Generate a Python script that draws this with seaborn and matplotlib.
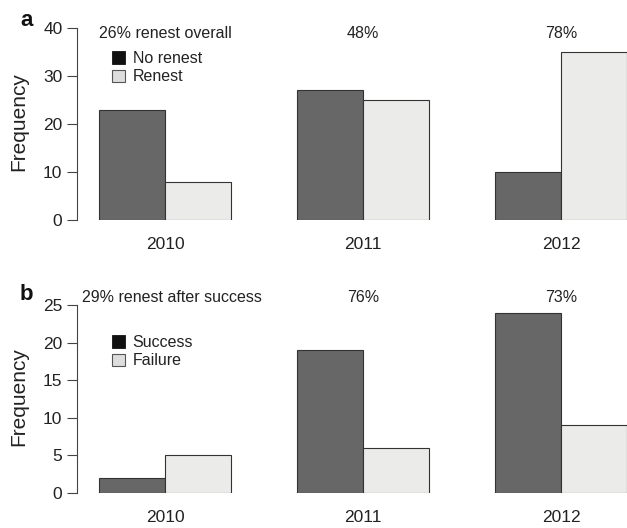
import matplotlib
matplotlib.use("Agg")
import matplotlib.pyplot as plt
import pandas as pd
import seaborn as sns
from matplotlib.patches import Patch

years = ["2010", "2011", "2012"]

renest_groups = ["No renest", "Renest"]
no_renest = [23, 27, 10]
renest = [8, 25, 35]
renest_pct = ["26% renest overall", "48%", "78%"]

success_groups = ["Success", "Failure"]
success = [2, 19, 24]
failure = [5, 6, 9]
success_pct = ["29% renest after success", "76%", "73%"]

DARK = "#676767"
LIGHT = "#ebecea"

sns.set_theme(style="white")
plt.rcParams["font.family"] = ["Liberation Sans", "DejaVu Sans"]

W, H = 627, 528
fig = plt.figure(figsize=(W / 100, H / 100), dpi=100)


def px(x, y):
    # pixel position (from top-left) -> figure fraction
    return x / W, 1 - y / H


def panel(rect, groups, a, b, labels, ymax, ytop, step, letter, letter_y, ann_y, ann_x0, leg_y):
    ax = fig.add_axes(rect)
    df = pd.DataFrame({
        "year": years * 2,
        "group": [groups[0]] * 3 + [groups[1]] * 3,
        "count": a + b,
    })
    sns.barplot(data=df, x="year", y="count", hue="group", order=years,
                hue_order=groups, palette=[DARK, LIGHT], width=2 / 3, gap=0,
                edgecolor="#333333", linewidth=0.8, saturation=1,
                legend=False, ax=ax)
    ax.set_xlim(-88 / 198, 2 + 66 / 198)
    ax.set_ylim(0, ytop)
    ax.set_yticks(range(0, ymax + 1, step))
    for s in ["top", "right", "bottom"]:
        ax.spines[s].set_visible(False)
    ax.spines["left"].set_bounds(0, ymax)
    ax.spines["left"].set_color("#444444")
    ax.spines["left"].set_linewidth(0.8)
    ax.tick_params(axis="y", left=True, length=7, width=0.8, color="#444444",
                   pad=3.5, labelsize=12.5, labelcolor="#222222")
    ax.tick_params(axis="x", bottom=False, length=0, pad=12, labelsize=12.5,
                   labelcolor="#222222")
    ax.set_xlabel("")
    ax.set_ylabel("Frequency", fontsize=15, color="#222222")
    ax.yaxis.set_label_coords(-0.089, 0.5)

    ax.text(ann_x0, ann_y, labels[0], ha="left", va="center", fontsize=11.5,
            color="#222222", clip_on=False)
    for i in (1, 2):
        ax.text(i, ann_y, labels[i], ha="center", va="center", fontsize=11.5,
                color="#222222", clip_on=False)

    fx, fy = px(20, letter_y)
    fig.text(fx, fy, letter, fontsize=16, fontweight="bold", ha="left",
             va="center", color="#111111")

    handles = [Patch(facecolor="#111111", edgecolor="#111111", linewidth=0.6),
               Patch(facecolor="#dddddd", edgecolor="#555555", linewidth=0.8)]
    lx, ly = px(112, leg_y)
    fig.legend(handles, groups, loc="upper left", bbox_to_anchor=(lx, ly),
               frameon=False, fontsize=11.5, handlelength=0.8,
               handleheight=0.8, handletextpad=0.5, labelspacing=0.2,
               borderpad=0, borderaxespad=0, labelcolor="#222222")
    return ax


# panel a: y=0 at 220px, 4.8 px per unit
ya0, yapu = 220, 4.8
top_a = 41
panel([77 / W, 1 - ya0 / H, 1 - 77 / W, top_a * yapu / H], renest_groups,
      no_renest, renest, renest_pct, 40, top_a, 10, "a", 20,
      (ya0 - 34) / yapu, -1 / 3, 51)

# panel b: y=0 at 493px, 7.52 px per unit
yb0, ybpu = 493, 7.52
top_b = 25.6
panel([77 / W, 1 - yb0 / H, 1 - 77 / W, top_b * ybpu / H], success_groups,
      success, failure, success_pct, 25, top_b, 5, "b", 294,
      (yb0 - 298) / ybpu, -0.42, 335)

fig.savefig("out.png", dpi=100)
